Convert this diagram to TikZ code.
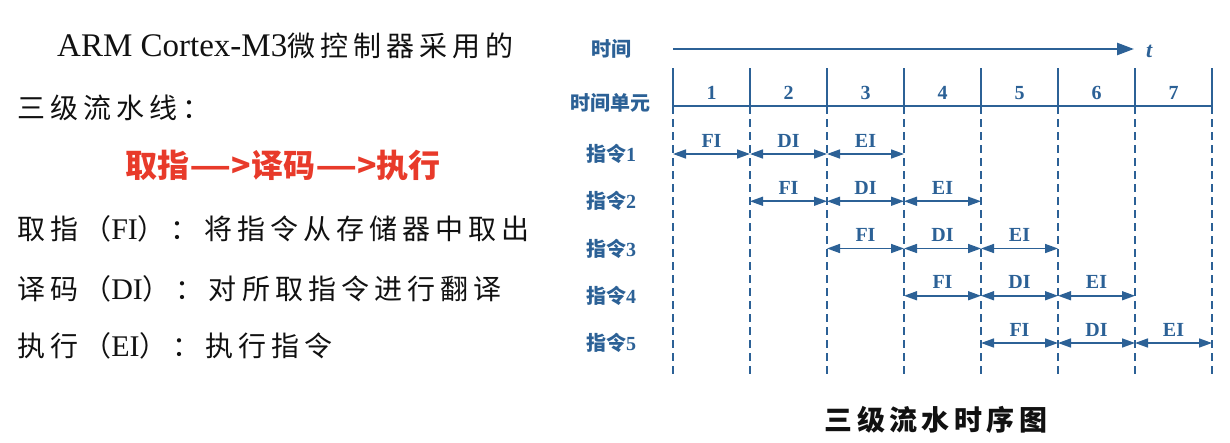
\documentclass[tikz,border=0pt]{standalone}
\usepackage{graphicx}
\usepackage{fontspec}
\setmainfont{Liberation Serif}
\newfontfamily\cjk{Noto Sans CJK SC}
\newfontfamily\cjkls[LetterSpace=18]{Noto Sans CJK SC}
\newfontfamily\cjktitle[LetterSpace=16]{Noto Sans CJK SC}
\usetikzlibrary{arrows.meta}
\definecolor{pblue}{RGB}{44,97,150}
\definecolor{pred}{RGB}{232,58,42}
\definecolor{ink}{RGB}{17,17,17}
\newcommand{\wdash}{\scalebox{1.45}[1]{—}}
\begin{document}
\begin{tikzpicture}[x=1pt,y=-1pt,
  lefttxt/.style={anchor=base west,inner sep=0pt,text=ink,font=\fontsize{28}{32}\selectfont},
  redtxt/.style={anchor=base,inner sep=0pt,text=pred,font=\fontsize{32}{36}\selectfont\cjk\bfseries},
  axislbl/.style={anchor=base,inner sep=0pt,text=pblue,font=\fontsize{20}{24}\selectfont\cjk\bfseries},
  numlbl/.style={anchor=base,inner sep=0pt,text=pblue,font=\fontsize{20}{24}\selectfont\bfseries},
  stagelbl/.style={anchor=base,inner sep=0pt,text=pblue,font=\fontsize{20}{24}\selectfont\bfseries},
  titletxt/.style={anchor=base,inner sep=0pt,text=ink,font=\fontsize{28}{32}\selectfont\cjktitle\bfseries},
  solidln/.style={draw=pblue,line width=2pt},
  dashln/.style={draw=pblue,line width=2pt,dash pattern=on 8pt off 5pt},
  stagearrow/.style={draw=pblue,line width=1.6pt,{Triangle[length=13pt,width=9pt]}-{Triangle[length=13pt,width=9pt]}},
  timearrow/.style={draw=pblue,line width=2.5pt,-{Triangle[length=17pt,width=12pt]}}
]
\useasboundingbox (0,0) rectangle (1230,442);

% ---------- left text ----------
\node[lefttxt] (l1) at (57,56) {{\fontsize{33}{36}\selectfont ARM Cortex-M3}{\cjkls 微控制器采用的}};
\node[lefttxt] (l2) at (17,118) {{\cjkls 三级流水线：}};
\node[redtxt] (l3) at (283,177) {取指\wdash>译码\wdash>执行};
\node[lefttxt] (l4) at (17,239) {{\cjkls 取指（}{\fontsize{30}{34}\selectfont FI}{\cjkls ）：将指令从存储器中取出}};
\node[lefttxt] (l5) at (17,299) {{\cjkls 译码（}{\fontsize{30}{34}\selectfont DI}{\cjkls ）：对所取指令进行翻译}};
\node[lefttxt] (l6) at (17,356) {{\cjkls 执行（}{\fontsize{30}{34}\selectfont EI}{\cjkls ）：执行指令}};

% ---------- right diagram ----------
\node[axislbl] (shijian) at (611,56) {时间};
\node[axislbl] (unit) at (610,110) {时间单元};
\coordinate (ta) at (673,49);
\coordinate (tb) at (1134,49);
\draw[timearrow] (ta) -- (tb);
\node[anchor=base west,inner sep=0pt,text=pblue,font=\fontsize{22}{26}\selectfont\bfseries\itshape] (tlab) at (1146,57) {t};

\foreach \i in {0,...,7} {
  \coordinate (top\i) at ({673+77*\i},68);
  \coordinate (mid\i) at ({673+77*\i},106);
  \coordinate (bot\i) at ({673+77*\i},378);
  \draw[solidln] (top\i) -- (mid\i);
  \draw[dashln] (mid\i) -- (bot\i);
}
\draw[solidln] (mid0) -- (mid7);
\foreach \i in {1,...,7}
  \node[numlbl] (n\i) at ({673+77*\i-38.5},99) {\i};

\foreach \r in {1,...,5} {
  \pgfmathsetmacro\yy{154+47.25*(\r-1)}
  \pgfmathtruncatemacro\a{\r-1}
  \pgfmathtruncatemacro\b{\r}
  \pgfmathtruncatemacro\c{\r+1}
  \pgfmathtruncatemacro\d{\r+2}
  \node[axislbl] (row\r) at (611,\yy+7.6) {指令{\rmfamily\bfseries\r}};
  \coordinate (p\r-\a) at ({673+77*\a},\yy);
  \coordinate (p\r-\b) at ({673+77*\b},\yy);
  \coordinate (p\r-\c) at ({673+77*\c},\yy);
  \coordinate (p\r-\d) at ({673+77*\d},\yy);
  \draw[stagearrow] (p\r-\a) -- (p\r-\b);
  \draw[stagearrow] (p\r-\b) -- (p\r-\c);
  \draw[stagearrow] (p\r-\c) -- (p\r-\d);
  \node[stagelbl] (fi\r) at ({673+77*\a+38.5},\yy-7) {FI};
  \node[stagelbl] (di\r) at ({673+77*\b+38.5},\yy-7) {DI};
  \node[stagelbl] (ei\r) at ({673+77*\c+38.5},\yy-7) {EI};
}

\node[titletxt] (title) at (936,430) {三级流水时序图};
\end{tikzpicture}
\end{document}
